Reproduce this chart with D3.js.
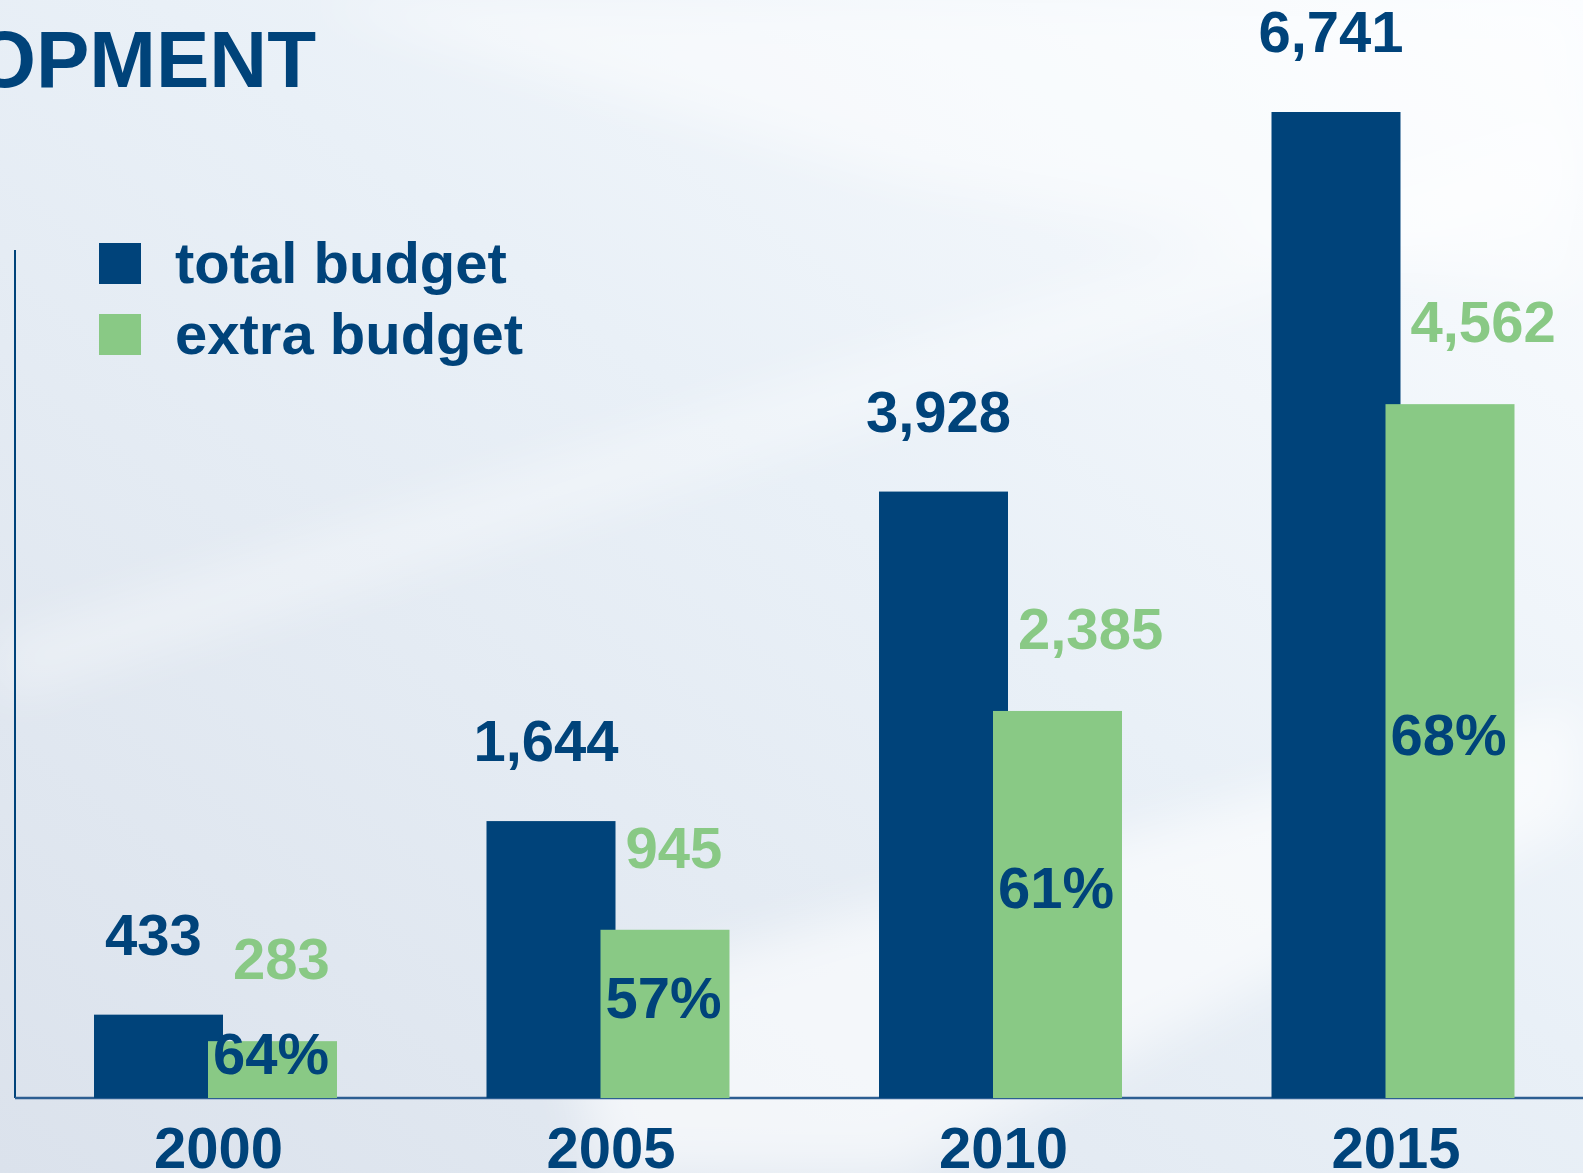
<!DOCTYPE html>
<html>
<head>
<meta charset="utf-8">
<script src="https://cdn.jsdelivr.net/npm/d3@7"></script>
<style>
  html, body { margin: 0; padding: 0; overflow: hidden; }
  svg { display: block; font-family: 'Liberation Sans', Arial, sans-serif; font-weight: bold; }
</style>
</head>
<body>
<div id="svg-container"></div>
<script>
const years = ['2000', '2005', '2010', '2015']
const totalBudget = [433, 1644, 3928, 6741]
const extraBudget = [283, 945, 2385, 4562]
const extraShare = ['64%', '57%', '61%', '68%']
const legendLabels = ['total budget', 'extra budget']

const width = 1583
const height = 1173
const base = 1098
const blue = '#00437a'
const green = '#89c985'

const svg = d3.select('#svg-container').append('svg')
  .attr('width', width)
  .attr('height', height)

// background
const defs = svg.append('defs')
const bg = defs.append('linearGradient').attr('id', 'bg')
  .attr('x1', 0).attr('y1', 1).attr('x2', 1).attr('y2', 0)
bg.append('stop').attr('offset', 0).attr('stop-color', '#dbe2ec')
bg.append('stop').attr('offset', 0.55).attr('stop-color', '#e9f0f7')
bg.append('stop').attr('offset', 1).attr('stop-color', '#fbfdff')
defs.append('filter').attr('id', 'blur')
  .append('feGaussianBlur').attr('stdDeviation', 25)

svg.append('rect').attr('width', width).attr('height', height).attr('fill', 'url(#bg)')

const streaks = svg.append('g').attr('filter', 'url(#blur)').attr('fill', '#ffffff')
streaks.append('path').attr('d', 'M560,1000 L1583,700 L1583,820 L900,1173 L600,1173 Z').attr('opacity', 0.6)
streaks.append('path').attr('d', 'M0,640 L1583,120 L1583,200 L0,700 Z').attr('opacity', 0.35)
streaks.append('path').attr('d', 'M300,0 L1583,0 L1583,300 L900,180 Z').attr('opacity', 0.45)

// scales
const x = d3.scalePoint().domain(years).range([215.5, 1393])
const y = d3.scalePow().exponent(0.9).domain([0, 6741]).range([base, 112])
const barW = 129

const data = years.map((yr, i) => ({
  year: yr,
  total: totalBudget[i],
  extra: extraBudget[i],
  share: extraShare[i],
}))

// title (cut off at the left edge)
svg.append('text')
  .attr('x', 316).attr('y', 87)
  .attr('text-anchor', 'end')
  .attr('font-size', 80)
  .attr('fill', blue)
  .text('OPMENT')

// axes lines
svg.append('line')
  .attr('x1', 15).attr('x2', 15).attr('y1', 250).attr('y2', base)
  .attr('stroke', blue).attr('stroke-width', 2)
svg.append('line')
  .attr('x1', 15).attr('x2', width).attr('y1', base).attr('y2', base)
  .attr('stroke', '#2c5e92').attr('stroke-width', 2.5)

// bars
const g = svg.append('g')

g.selectAll('rect.total')
  .data(data)
  .join('rect')
  .attr('class', 'total')
  .attr('x', d => x(d.year) - 121.5)
  .attr('y', d => y(d.total))
  .attr('width', barW)
  .attr('height', d => base - y(d.total))
  .attr('fill', blue)

g.selectAll('rect.extra')
  .data(data)
  .join('rect')
  .attr('class', 'extra')
  .attr('x', d => x(d.year) - 7.5)
  .attr('y', d => y(d.extra))
  .attr('width', barW)
  .attr('height', d => base - y(d.extra))
  .attr('fill', green)

// value labels
const fmt = d3.format(',')

g.selectAll('text.total')
  .data(data)
  .join('text')
  .attr('class', 'total')
  .attr('x', d => x(d.year) - 121.5 + barW / 2 - 5)
  .attr('y', d => y(d.total) - 60)
  .attr('text-anchor', 'middle')
  .attr('font-size', 58)
  .attr('fill', blue)
  .text(d => fmt(d.total))

g.selectAll('text.extra')
  .data(data)
  .join('text')
  .attr('class', 'extra')
  .attr('x', d => x(d.year) - 7.5 + 25)
  .attr('y', d => y(d.extra) - 62)
  .attr('font-size', 58)
  .attr('fill', green)
  .text(d => fmt(d.extra))

g.selectAll('text.share')
  .data(data)
  .join('text')
  .attr('class', 'share')
  .attr('x', d => x(d.year) - 7.5 + 5)
  .attr('y', d => Math.min((y(d.extra) + base) / 2 + 4, base - 8))
  .attr('font-size', 58)
  .attr('fill', blue)
  .text(d => d.share)

// year labels
g.selectAll('text.year')
  .data(data)
  .join('text')
  .attr('class', 'year')
  .attr('x', d => x(d.year) + 3)
  .attr('y', 1168)
  .attr('text-anchor', 'middle')
  .attr('font-size', 58)
  .attr('fill', blue)
  .text(d => d.year)

// legend
const legend = svg.append('g')
  .selectAll('g')
  .data(legendLabels)
  .join('g')
  .attr('transform', (d, i) => `translate(99,${243 + i * 71})`)

legend.append('rect')
  .attr('width', 42).attr('height', 41)
  .attr('fill', (d, i) => i === 0 ? blue : green)

legend.append('text')
  .attr('x', 76).attr('y', 40)
  .attr('font-size', 58)
  .attr('fill', blue)
  .text(d => d)
</script>
</body>
</html>
